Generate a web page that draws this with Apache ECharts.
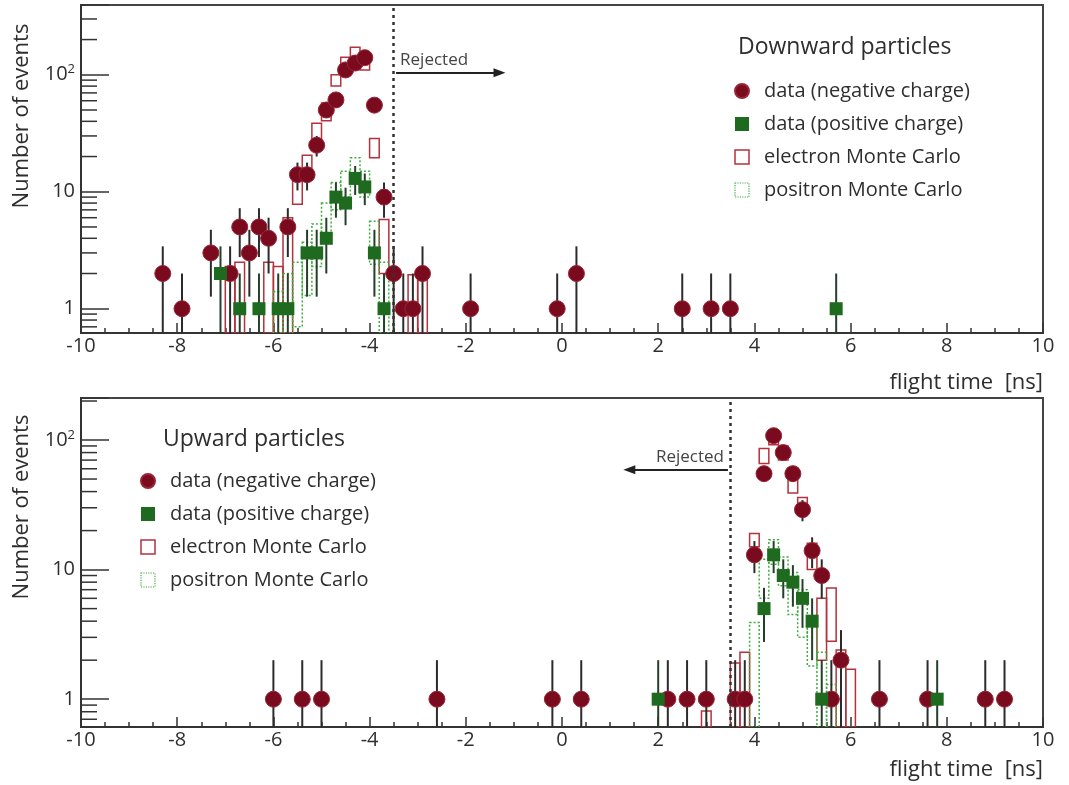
<!DOCTYPE html>
<html>
<head>
<meta charset="utf-8">
<title>Flight time</title>
<script src="https://cdn.jsdelivr.net/npm/echarts@6/dist/echarts.min.js"></script>
<style>
  html, body { margin: 0; padding: 0; background: #fff; }
  #chart { width: 1069px; height: 785px; }
</style>
</head>
<body>
<div id="chart"></div>
<script>
// x values are bin centres in ns, bins are 0.2 ns wide
const BIN = 0.2;
const X_MIN = -10;
const X_MAX = 10;
const X_STEP = 2;
const Y_LABELS = { 1: '1', 10: '10', 100: '10{sup|2}' };
const Y_MINOR = [0.7, 0.8, 0.9, 2, 3, 4, 5, 6, 7, 8, 9, 20, 30, 40, 50, 60, 70, 80, 90, 200, 300];

// downward particles
const downNegX = [-8.3, -7.9, -7.3, -6.9, -6.7, -6.5, -6.3, -6.1, -5.7, -5.5, -5.3, -5.1, -4.9, -4.7, -4.5, -4.3, -4.1, -3.9, -3.7, -3.5, -3.3, -3.1, -2.9, -1.9, -0.1, 0.3, 2.5, 3.1, 3.5];
const downNegN = [2, 1, 3, 2, 5, 3, 5, 4, 5, 14, 14, 25, 50, 61, 110, 126, 140, 55, 9, 2, 1, 1, 2, 1, 1, 2, 1, 1, 1];
const downPosX = [-7.1, -6.7, -6.3, -5.9, -5.7, -5.3, -5.1, -4.9, -4.7, -4.5, -4.3, -4.1, -3.9, -3.7, 5.7];
const downPosN = [2, 1, 1, 1, 1, 3, 3, 4, 9, 8, 13, 11, 3, 1, 1];
// MC: [bin centre, value, half height of box]
const downElectronMC = [
  [-6.9, 1.2, 1.1], [-6.7, 1.3, 1.2], [-6.1, 1.3, 1.2], [-5.9, 1.2, 1.1], [-5.7, 3, 3],
  [-5.5, 10.5, 2.7], [-5.3, 17, 3.5], [-5.1, 32, 6.5], [-4.9, 49, 8.5], [-4.7, 90, 10],
  [-4.5, 120, 21], [-4.3, 148, 24], [-4.1, 130, 20], [-3.9, 24, 4.5], [-3.7, 3.9, 1.9],
  [-3.1, 1, 0.95], [-2.9, 1, 0.95]
];
const downPositronMC = [
  [-5.9, 0.9, 0.5], [-5.7, 1.2, 0.8], [-5.5, 1.6, 0.9], [-5.3, 2.5, 1.2], [-5.1, 3.8, 1.5],
  [-4.9, 6, 2], [-4.7, 9.5, 2.5], [-4.5, 12, 3], [-4.3, 16, 3.5], [-4.1, 12, 3],
  [-3.9, 4, 1.6], [-3.7, 1.5, 1]
];

// upward particles
const upNegX = [-6.0, -5.4, -5.0, -2.6, -0.2, 0.4, 2.2, 2.6, 3.0, 3.6, 3.8, 4.0, 4.2, 4.4, 4.6, 4.8, 5.0, 5.2, 5.4, 5.6, 5.8, 6.6, 7.6, 8.8, 9.2];
const upNegN = [1, 1, 1, 1, 1, 1, 1, 1, 1, 1, 1, 13, 55, 108, 80, 55, 29, 14, 9, 1, 2, 1, 1, 1, 1];
const upPosX = [2.0, 4.2, 4.4, 4.6, 4.8, 5.0, 5.2, 5.4, 7.8];
const upPosN = [1, 5, 13, 9, 8, 6, 4, 1, 1];
const upElectronMC = [
  [3.0, 0.7, 0.11], [3.6, 1.0, 0.9], [3.8, 1.2, 1.1], [4.0, 17, 2], [4.2, 76, 10],
  [4.4, 105, 13], [4.6, 80, 10], [4.8, 50, 11], [5.0, 32, 4], [5.2, 13, 3],
  [5.4, 4, 2], [5.6, 5, 2.2], [5.8, 1.5, 0.9], [6.0, 1.0, 0.7]
];
const upPositronMC = [
  [4.0, 2, 1.9], [4.2, 9, 3], [4.4, 14, 3], [4.6, 10, 2.5], [4.8, 7, 2.5],
  [5.0, 5, 2], [5.2, 3, 1.2], [5.4, 1.3, 1], [5.6, 0.8, 0.5]
];

const FONT = 'Open Sans';
const TEXT = '#2e2e2e';
const NEG_COLOR = '#7a0b1e';
const POS_COLOR = '#1e6a1e';
const EL_COLOR = '#b3323c';
const PO_COLOR = '#3fae3f';

const zip = (xs, ys) => xs.map((x, i) => [x, ys[i]]);

function boxRenderer(yMin, color, dash) {
  return (params, api) => {
    const x = api.value(0);
    const v = api.value(1);
    const e = api.value(2);
    const p1 = api.coord([x - BIN / 2, v + e]);
    const p2 = api.coord([x + BIN / 2, Math.max(v - e, yMin)]);
    return {
      type: 'rect',
      shape: { x: p1[0], y: p1[1], width: p2[0] - p1[0], height: p2[1] - p1[1] },
      style: { fill: 'none', stroke: color, lineWidth: 1.5, lineDash: dash || null },
    };
  };
}

// poisson error bars on the data
function errRenderer(yMin, color) {
  return (params, api) => {
    const x = api.value(0);
    const n = api.value(1);
    const e = Math.sqrt(n);
    const top = api.coord([x, n + e]);
    const bot = api.coord([x, Math.max(n - e, yMin)]);
    return {
      type: 'line',
      shape: { x1: top[0], y1: top[1], x2: bot[0], y2: bot[1] },
      style: { stroke: color, lineWidth: 2 },
    };
  };
}

function minorTickRenderer(params, api) {
  const p = api.coord([api.value(0), api.value(1)]);
  return {
    type: 'line',
    shape: { x1: p[0], y1: p[1], x2: p[0] + 16, y2: p[1] },
    style: { stroke: '#333', lineWidth: 1.5 },
  };
}

function yLabel(v) {
  const k = Math.round(v);
  if (Math.abs(v - k) > 1e-6 * Math.max(1, v)) return '';
  return Y_LABELS[k] || '';
}

const panels = [
  {
    grid: { left: 81, top: 5, width: 962, height: 328 },
    yMin: 0.62, yMax: 395,
    neg: zip(downNegX, downNegN), pos: zip(downPosX, downPosN),
    el: downElectronMC, po: downPositronMC,
    cut: -3.5,
    arrow: [[-3.45, 104], [-1.3, 104]], arrowSymbol: ['none', 'triangle'], arrowLabel: 'insideStartTop',
  },
  {
    grid: { left: 81, top: 398, width: 962, height: 329 },
    yMin: 0.61, yMax: 211,
    neg: zip(upNegX, upNegN), pos: zip(upPosX, upPosN),
    el: upElectronMC, po: upPositronMC,
    cut: 3.5,
    arrow: [[1.4, 59], [3.45, 59]], arrowSymbol: ['triangle', 'none'], arrowLabel: 'insideEndTop',
  },
];

const grids = [];
const xAxes = [];
const yAxes = [];
const series = [];

panels.forEach((p, i) => {
  grids.push(Object.assign({ show: true, borderColor: '#444', borderWidth: 2, backgroundColor: '#fff' }, p.grid));
  xAxes.push({
    gridIndex: i,
    type: 'value',
    min: X_MIN,
    max: X_MAX,
    interval: X_STEP,
    axisLine: { onZero: false, lineStyle: { color: '#333', width: 2 } },
    axisTick: { inside: true, length: 10, lineStyle: { color: '#333', width: 1.5 } },
    minorTick: { show: true, splitNumber: 4, length: 5, lineStyle: { color: '#333', width: 1.5 } },
    axisLabel: { color: TEXT, fontSize: 20, fontFamily: FONT, margin: 3 },
    splitLine: { show: false },
  });
  yAxes.push({
    gridIndex: i,
    type: 'log',
    logBase: 10,
    min: p.yMin,
    max: p.yMax,
    axisLine: { onZero: false, lineStyle: { color: '#333', width: 2 } },
    axisTick: { inside: true, length: 28, lineStyle: { color: '#333', width: 1.5 } },
    axisLabel: {
      color: TEXT, fontSize: 20, fontFamily: FONT, margin: 6,
      formatter: yLabel,
      rich: { sup: { fontSize: 13, fontFamily: FONT, color: TEXT, verticalAlign: 'top', padding: [0, 0, 10, 0] } },
    },
    splitLine: { show: false },
  });

  const axes = { xAxisIndex: i, yAxisIndex: i };
  series.push(
    Object.assign({
      type: 'custom', name: 'electron Monte Carlo', clip: true, silent: true,
      renderItem: boxRenderer(p.yMin, EL_COLOR), data: p.el, encode: { x: 0, y: 1 },
    }, axes),
    Object.assign({
      type: 'custom', name: 'positron Monte Carlo', clip: true, silent: true,
      renderItem: boxRenderer(p.yMin, PO_COLOR, [2, 2]), data: p.po, encode: { x: 0, y: 1 },
    }, axes),
    Object.assign({
      type: 'custom', clip: true, silent: true,
      renderItem: errRenderer(p.yMin, '#2b2b2b'), data: p.neg, encode: { x: 0, y: 1 },
    }, axes),
    Object.assign({
      type: 'custom', clip: true, silent: true,
      renderItem: errRenderer(p.yMin, '#24402a'), data: p.pos, encode: { x: 0, y: 1 },
    }, axes),
    Object.assign({
      type: 'scatter', name: 'data (negative charge)', symbol: 'circle', symbolSize: 16,
      itemStyle: { color: NEG_COLOR, borderColor: '#9a2436', borderWidth: 1, opacity: 1 },
      data: p.neg,
      markLine: {
        silent: true, symbol: 'none', animation: false,
        lineStyle: { color: '#333', width: 2.5, type: [3, 4] },
        label: { show: false },
        data: [{ xAxis: p.cut }],
      },
    }, axes),
    Object.assign({
      type: 'scatter', name: 'data (positive charge)', symbol: 'rect', symbolSize: 13,
      itemStyle: { color: POS_COLOR, opacity: 1 },
      data: p.pos,
      markLine: {
        silent: true, symbol: p.arrowSymbol, symbolSize: [9, 12], animation: false,
        lineStyle: { color: '#222', width: 1.8, type: 'solid' },
        label: { show: true, formatter: 'Rejected', position: p.arrowLabel, color: '#444', fontSize: 17, fontFamily: FONT, distance: 4 },
        data: [[{ coord: p.arrow[0] }, { coord: p.arrow[1] }]],
      },
    }, axes),
    Object.assign({
      type: 'custom', clip: false, silent: true,
      renderItem: minorTickRenderer,
      data: Y_MINOR.filter((v) => v > p.yMin && v < p.yMax).map((v) => [X_MIN, v]),
      encode: { x: 0, y: 1 },
    }, axes)
  );
});

function legendItems() {
  return [
    { name: 'data (negative charge)', icon: 'circle', itemStyle: { color: NEG_COLOR } },
    { name: 'data (positive charge)', icon: 'rect', itemStyle: { color: POS_COLOR } },
    { name: 'electron Monte Carlo', icon: 'rect', itemStyle: { color: 'rgba(0,0,0,0)', borderColor: EL_COLOR, borderWidth: 1.5 } },
    { name: 'positron Monte Carlo', icon: 'rect', itemStyle: { color: 'rgba(0,0,0,0)', borderColor: PO_COLOR, borderWidth: 1.2, borderType: 'dotted' } },
  ];
}

const legendBase = {
  orient: 'vertical', padding: 0, itemGap: 13, itemWidth: 14, itemHeight: 14, selectedMode: false,
  textStyle: { color: TEXT, fontSize: 20, fontFamily: FONT, padding: [0, 0, 0, 10] },
};

const titleStyle = { color: TEXT, fontSize: 23, fontWeight: 'normal', fontFamily: FONT };
const axisTitleStyle = { color: TEXT, fontSize: 22, fontWeight: 'normal', fontFamily: FONT };
const yTitleFont = '22px "Open Sans"';

const chart = echarts.init(document.getElementById('chart'), null, { renderer: 'canvas' });
chart.setOption({
  animation: false,
  backgroundColor: '#fff',
  title: [
    { text: 'Downward particles', left: 738, top: 36, padding: 0, textStyle: titleStyle },
    { text: 'Upward particles', left: 163, top: 428, padding: 0, textStyle: titleStyle },
    { text: 'flight time  [ns]', right: 26, top: 372, padding: 0, textStyle: axisTitleStyle },
    { text: 'flight time  [ns]', right: 26, top: 759, padding: 0, textStyle: axisTitleStyle },
  ],
  legend: [
    Object.assign({ left: 734, top: 81, data: legendItems() }, legendBase),
    Object.assign({ left: 140, top: 471, data: legendItems() }, legendBase),
  ],
  graphic: [
    { type: 'text', x: 22, y: 116, rotation: Math.PI / 2, style: { text: 'Number of events', fill: TEXT, font: yTitleFont, align: 'center', verticalAlign: 'middle' } },
    { type: 'text', x: 22, y: 507, rotation: Math.PI / 2, style: { text: 'Number of events', fill: TEXT, font: yTitleFont, align: 'center', verticalAlign: 'middle' } },
  ],
  grid: grids,
  xAxis: xAxes,
  yAxis: yAxes,
  series: series,
});
</script>
</body>
</html>
